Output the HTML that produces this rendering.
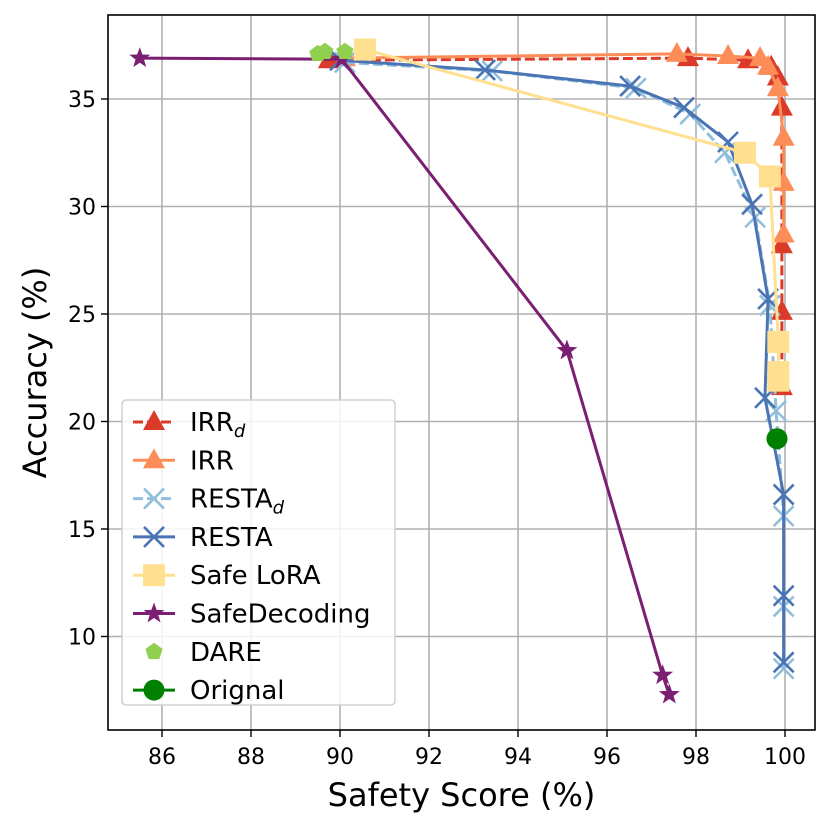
<!DOCTYPE html>
<html><head><meta charset="utf-8"><style>
body{margin:0;background:#fff;}
svg{display:block;font-family:"DejaVu Sans","Liberation Sans",sans-serif;}
</style></head><body>
<svg id="chart" width="829" height="829" viewBox="0 0 829 829" xmlns="http://www.w3.org/2000/svg">
<g id="grid"></g><g id="series"></g><g id="axes"></g><g id="legend"></g>
</svg>
<script>
const xTicks=[86,88,90,92,94,96,98,100];
const yTicks=[10,15,20,25,30,35];
const irrdX=[89.75,97.82,99.17,99.69,99.84,99.93,99.93,99.93,99.93];
const irrdY=[36.8,36.9,36.8,36.5,36.0,34.6,28.2,25.1,21.6];
const irrX=[90.11,97.57,98.72,99.44,99.62,99.84,99.97,99.97,99.97];
const irrY=[36.9,37.1,37.0,36.9,36.5,35.5,33.2,31.1,28.7];
const restadX=[90.11,93.42,96.65,97.87,98.65,99.33,99.66,99.8,99.97,99.97,99.97];
const restadY=[36.7,36.3,35.5,34.3,32.5,29.5,25.4,20.5,15.6,11.4,8.5];
const restaX=[90.0,93.26,96.52,97.73,98.72,99.26,99.62,99.55,99.97,99.97,99.97];
const restaY=[36.8,36.35,35.6,34.6,33.0,30.1,25.7,21.1,16.6,11.9,8.8];
const loraX=[90.56,99.1,99.66,99.85,99.85,99.85];
const loraY=[37.3,32.5,31.4,23.7,22.3,21.9];
const sdX=[85.5,90.04,95.1,97.25,97.4];
const sdY=[36.9,36.85,23.3,8.2,7.3];
const dareX=[89.5,89.66,90.11];
const dareY=[37.1,37.2,37.2];
const origX=[99.82];
const origY=[19.2];

const L=108,R=815,T=15,B=730;
const sx=v=>162+(v-86)*44.5;
const sy=v=>99-(v-35)*21.5;
const NS="http://www.w3.org/2000/svg";
function mk(tag,attrs,parent){const e=document.createElementNS(NS,tag);for(const k in attrs)e.setAttribute(k,attrs[k]);parent.appendChild(e);return e;}
const grid=document.getElementById('grid'),axes=document.getElementById('axes'),ser=document.getElementById('series'),leg=document.getElementById('legend');
mk('rect',{x:L,y:T,width:R-L,height:B-T,fill:'#fff'},grid);
xTicks.forEach(t=>{const x=sx(t);
 const g=mk('line',{x1:x,x2:x,y1:T,y2:B,stroke:'#b0b0b0','stroke-width':1.6},grid);
 
 mk('line',{x1:x,x2:x,y1:B,y2:B+7,stroke:'#000','stroke-width':1.4},axes);
 const tx=mk('text',{x:x,y:B+34,'text-anchor':'middle','font-size':22},axes);tx.textContent=t;
 });
yTicks.forEach(t=>{const y=sy(t);
 const g=mk('line',{x1:L,x2:R,y1:y,y2:y,stroke:'#b0b0b0','stroke-width':1.6},grid);
 
 mk('line',{x1:L-7,x2:L,y1:y,y2:y,stroke:'#000','stroke-width':1.4},axes);
 const tx=mk('text',{x:L-12,y:y+8,'text-anchor':'end','font-size':22},axes);tx.textContent=t;
 });
const fr=mk('rect',{x:L,y:T,width:R-L,height:B-T,fill:'none',stroke:'#000','stroke-width':1.6},axes);

const xl=mk('text',{x:(L+R)/2,y:806,'text-anchor':'middle','font-size':32},axes);xl.textContent='Safety Score (%)';

const yl=mk('text',{x:0,y:0,'text-anchor':'middle','font-size':32,transform:'translate(46,'+((T+B)/2)+') rotate(-90)'},axes);yl.textContent='Accuracy (%)';


function marker(type,x,y,color,p){
 if(type==='tri')return mk('polygon',{points:`${x},${y-12} ${x-11},${y+8} ${x+11},${y+8}`,fill:color},p);
 if(type==='x'){const g=mk('g',{stroke:color,'stroke-width':2.6},p);mk('line',{x1:x-10,y1:y-10,x2:x+10,y2:y+10},g);mk('line',{x1:x-10,y1:y+10,x2:x+10,y2:y-10},g);return g;}
 if(type==='sq')return mk('rect',{x:x-11,y:y-11,width:22,height:22,fill:color},p);
 if(type==='star'){let pts=[];for(let i=0;i<10;i++){const r=i%2?4.5:11,a=-Math.PI/2+i*Math.PI/5;pts.push((x+r*Math.cos(a)).toFixed(1)+','+(y+r*Math.sin(a)).toFixed(1));}return mk('polygon',{points:pts.join(' '),fill:color},p);}
 if(type==='pent'){let pts=[];for(let i=0;i<5;i++){const a=-Math.PI/2+i*2*Math.PI/5;pts.push((x+9*Math.cos(a)).toFixed(1)+','+(y+9*Math.sin(a)).toFixed(1));}return mk('polygon',{points:pts.join(' '),fill:color},p);}
 if(type==='circ')return mk('circle',{cx:x,cy:y,r:10.5,fill:color},p);
}
const S=[
 {n:'IRR',sub:'d',xs:irrdX,ys:irrdY,c:'#dc3a28',m:'tri',dash:'10,4',line:true,id:'irr-d'},
 {n:'IRR',xs:irrX,ys:irrY,c:'#fc8d59',m:'tri',line:true,id:'irr'},
 {n:'RESTA',sub:'d',xs:restadX,ys:restadY,c:'#91bfdb',m:'x',dash:'10,4',line:true,id:'resta-d'},
 {n:'RESTA',xs:restaX,ys:restaY,c:'#4a74b4',m:'x',line:true,id:'resta'},
 {n:'Safe LoRA',xs:loraX,ys:loraY,c:'#fee090',m:'sq',line:true,id:'safe-lora'},
 {n:'SafeDecoding',xs:sdX,ys:sdY,c:'#7a1f72',m:'star',line:true,id:'safedecoding'},
 {n:'DARE',xs:dareX,ys:dareY,c:'#8fd14f',m:'pent',line:false,id:'dare'},
 {n:'Orignal',xs:origX,ys:origY,c:'#008000',m:'circ',line:true,id:'original'}
];
S.forEach(s=>{
 const g=mk('g',{},ser);
 if(s.line&&s.xs.length>1){const pl=mk('polyline',{points:s.xs.map((v,i)=>sx(v)+','+sy(s.ys[i])).join(' '),fill:'none',stroke:s.c,'stroke-width':3,'stroke-dasharray':s.dash||'none'},g);
  }
 s.xs.forEach((v,i)=>{const m=marker(s.m,sx(v),sy(s.ys[i]),s.c,g);
  });
});
const lb=mk('rect',{x:122,y:400,width:273,height:305,rx:4,fill:'#fff','fill-opacity':0.85,stroke:'#d0d0d0','stroke-width':1.5},leg);

S.forEach((s,i)=>{const y=422+i*38.3;
 const g=mk('g',{},leg);
 if(s.line)mk('line',{x1:133,x2:175,y1:y,y2:y,stroke:s.c,'stroke-width':3,'stroke-dasharray':s.dash||'none'},g);
 marker(s.m,154,y,s.c,g);
 const t=mk('text',{x:190,y:y+9,'font-size':26},g);t.textContent=s.n;
 if(s.sub){const ts=mk('tspan',{'font-size':18,dy:6,'font-style':'italic'},t);ts.textContent=s.sub;}
});
</script>
</body></html>
